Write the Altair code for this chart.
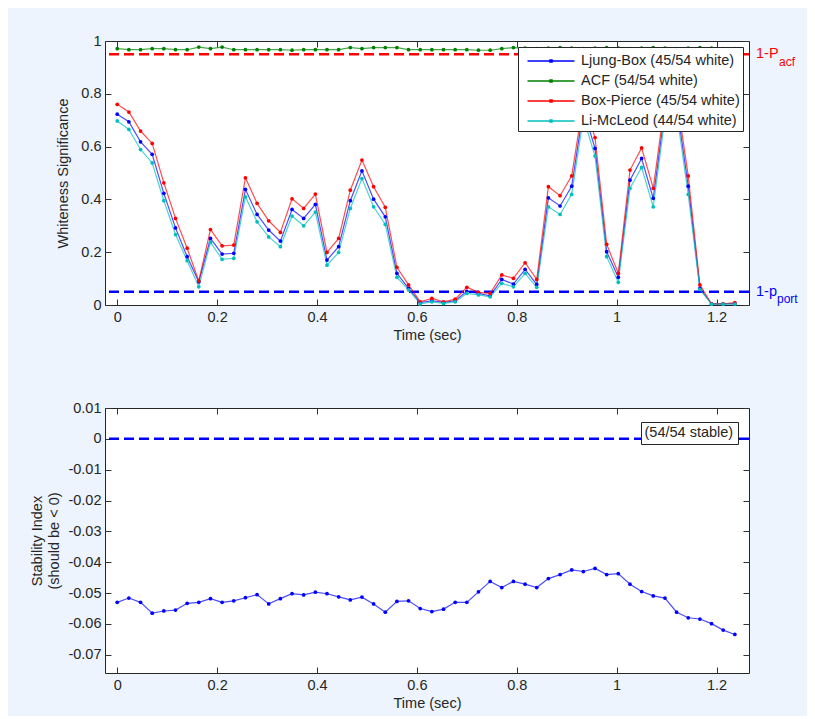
import altair as alt
import pandas as pd

# ---------------- data ----------------
t = [0.0, 0.0233, 0.0467, 0.07, 0.0933, 0.1167, 0.14, 0.1633, 0.1867, 0.21,
     0.2333, 0.2567, 0.28, 0.3033, 0.3267, 0.35, 0.3733, 0.3967, 0.42, 0.4433,
     0.4667, 0.49, 0.5133, 0.5367, 0.56, 0.5833, 0.6067, 0.63, 0.6533, 0.6767,
     0.70, 0.7233, 0.7467, 0.77, 0.7933, 0.8167, 0.84, 0.8633, 0.8867, 0.91,
     0.9333, 0.9567, 0.98, 1.0033, 1.0267, 1.05, 1.0733, 1.0967, 1.12, 1.1433,
     1.1667, 1.19, 1.2133, 1.2367]

ljung_box = [0.723, 0.694, 0.618, 0.571, 0.423, 0.292, 0.183, 0.088, 0.252, 0.193,
             0.196, 0.438, 0.343, 0.284, 0.242, 0.362, 0.328, 0.381, 0.170, 0.221,
             0.395, 0.508, 0.401, 0.334, 0.120, 0.063, 0.009, 0.016, 0.010, 0.016,
             0.052, 0.044, 0.035, 0.097, 0.079, 0.135, 0.078, 0.406, 0.375, 0.450,
             0.740, 0.593, 0.202, 0.105, 0.473, 0.555, 0.404, 0.740, 0.760, 0.450,
             0.063, 0.004, 0.004, 0.005]

acf = [0.971, 0.967, 0.967, 0.971, 0.971, 0.967, 0.967, 0.977, 0.971, 0.977,
       0.967, 0.967, 0.967, 0.967, 0.967, 0.965, 0.967, 0.967, 0.967, 0.967,
       0.975, 0.971, 0.975, 0.975, 0.975, 0.967, 0.967, 0.967, 0.967, 0.967,
       0.967, 0.965, 0.965, 0.971, 0.975, 0.973, 0.971, 0.973, 0.975, 0.973,
       0.971, 0.973, 0.975, 0.973, 0.971, 0.973, 0.975, 0.973, 0.971, 0.973,
       0.975, 0.973, 0.971, 0.971]

box_pierce = [0.760, 0.731, 0.659, 0.612, 0.463, 0.328, 0.215, 0.091, 0.286, 0.224,
              0.227, 0.482, 0.385, 0.319, 0.275, 0.402, 0.366, 0.420, 0.199, 0.252,
              0.435, 0.549, 0.448, 0.370, 0.143, 0.076, 0.012, 0.025, 0.012, 0.022,
              0.067, 0.048, 0.044, 0.114, 0.101, 0.160, 0.097, 0.448, 0.414, 0.489,
              0.770, 0.634, 0.230, 0.120, 0.511, 0.595, 0.442, 0.770, 0.790, 0.489,
              0.076, 0.004, 0.004, 0.009]

li_mcleod = [0.697, 0.665, 0.589, 0.538, 0.395, 0.267, 0.168, 0.069, 0.237, 0.173,
             0.177, 0.410, 0.315, 0.258, 0.221, 0.337, 0.300, 0.352, 0.151, 0.199,
             0.366, 0.479, 0.372, 0.305, 0.105, 0.057, 0.004, 0.012, 0.006, 0.012,
             0.044, 0.038, 0.031, 0.082, 0.069, 0.120, 0.067, 0.372, 0.343, 0.419,
             0.710, 0.564, 0.183, 0.086, 0.442, 0.521, 0.372, 0.710, 0.730, 0.419,
             0.059, 0.003, 0.003, 0.003]

stability = [-0.0530, -0.0516, -0.0530, -0.0565, -0.0558, -0.0555, -0.0533, -0.0530, -0.0518, -0.0530,
             -0.0525, -0.0515, -0.0505, -0.0535, -0.0518, -0.0502, -0.0506, -0.0497, -0.0502, -0.0512,
             -0.0522, -0.0513, -0.0535, -0.0562, -0.0527, -0.0525, -0.0550, -0.0560, -0.0552, -0.0530,
             -0.0530, -0.0496, -0.0462, -0.0482, -0.0462, -0.0471, -0.0482, -0.0453, -0.0440, -0.0425,
             -0.0430, -0.0420, -0.0440, -0.0437, -0.0471, -0.0495, -0.0509, -0.0516, -0.0562, -0.0580,
             -0.0584, -0.0599, -0.0620, -0.0634]

series_names = ["Ljung-Box (45/54 white)", "ACF (54/54 white)",
                "Box-Pierce (45/54 white)", "Li-McLeod (44/54 white)"]
series_colors = ["#0000ff", "#008000", "#ff0000", "#00bfbf"]

x_ticks = [0, 0.2, 0.4, 0.6, 0.8, 1.0, 1.2]
y1_ticks = [0, 0.2, 0.4, 0.6, 0.8, 1.0]
y2_ticks = [0.01, 0, -0.01, -0.02, -0.03, -0.04, -0.05, -0.06, -0.07]

p_acf = 0.95
p_port = 0.05
stable_level = 0.0
stable_label = "(54/54 stable)"

x_title = "Time (sec)"
y1_title = "Whiteness Significance"
y2_title = ["Stability Index", "(should be < 0)"]

# ---------------- tables ----------------
rows = []
for name, vals in zip(series_names, [ljung_box, acf, box_pierce, li_mcleod]):
    for ti, v in zip(t, vals):
        rows.append({"t": ti, "v": v, "series": name})
df1 = pd.DataFrame(rows)
df2 = pd.DataFrame({"t": t, "s": stability})
thr = pd.DataFrame({"y": [p_acf, p_port]})
stab_rule = pd.DataFrame({"y": [stable_level], "lab": [stable_label]})

# ---------------- style ----------------
FONT = "Liberation Sans"
FS = 14.5
TXT = "#262626"
W, H1, H2 = 644, 264, 265
TICK = 6

xscale = alt.Scale(domain=[-0.0245, 1.265], nice=False, zero=False)
y1scale = alt.Scale(domain=[0, 1], nice=False, zero=False)
y2scale = alt.Scale(domain=[-0.0759, 0.01], nice=False, zero=False)

minus_fix = "replace(format(datum.value, '~g'), '\u2212', '-')"


def x_bottom():
    return alt.Axis(values=x_ticks, labelExpr=minus_fix, offset=-TICK, tickSize=TICK,
                    domain=False, labelPadding=5, title=x_title, titlePadding=5)


def x_top():
    return alt.Axis(orient="top", values=x_ticks, labels=False, offset=-TICK,
                    tickSize=TICK, domain=False, title=None)


def y_left(vals, title, tpad):
    return alt.Axis(values=vals, labelExpr=minus_fix, offset=-TICK, tickSize=TICK,
                    domain=False, labelPadding=4, title=title, titlePadding=tpad)


def y_right(vals):
    return alt.Axis(orient="right", values=vals, labels=False, offset=-TICK,
                    tickSize=TICK, domain=False, title=None)


legend_path = "M-2.35,0H2.35M-0.1,-0.1H0.1V0.1H-0.1Z"

# ---------------- top panel ----------------
lines = alt.Chart(df1).mark_line(
    strokeWidth=1.2, strokeOpacity=0.7,
    point=alt.OverlayMarkDef(size=14, filled=True, opacity=1)
).encode(
    x=alt.X("t:Q", scale=xscale, axis=x_bottom()),
    y=alt.Y("v:Q", scale=y1scale, axis=y_left(y1_ticks, y1_title, 10)),
    color=alt.Color("series:N", sort=series_names,
                    scale=alt.Scale(domain=series_names, range=series_colors),
                    legend=alt.Legend(title=None, orient="top-right", offset=6,
                                      fillColor="white", strokeColor=TXT, padding=3,
                                      symbolType=legend_path, symbolSize=400,
                                      symbolStrokeWidth=1.5, symbolOffset=19,
                                      labelOffset=19, rowPadding=2,
                                      labelFont=FONT, labelFontSize=FS,
                                      labelColor=TXT, labelLimit=400)),
)

frame1 = alt.Chart(df1).mark_point(opacity=0).encode(
    x=alt.X("t:Q", scale=xscale, axis=x_top()),
    y=alt.Y("v:Q", scale=y1scale, axis=y_right(y1_ticks)),
)

rule_acf = alt.Chart(thr).transform_filter(alt.datum.y > 0.5).mark_rule(
    color="#ff0000", strokeWidth=2.5, strokeDash=[10, 5]
).encode(y=alt.Y("y:Q", scale=y1scale, axis=None))

rule_port = alt.Chart(thr).transform_filter(alt.datum.y < 0.5).mark_rule(
    color="#0000ff", strokeWidth=2.5, strokeDash=[10, 5]
).encode(y=alt.Y("y:Q", scale=y1scale, axis=None))


def side_label(level, text, color, dx, dy, size):
    return alt.Chart(pd.DataFrame({"y": [level], "txt": [text]})).mark_text(
        align="left", baseline="middle", font=FONT, fontSize=size, color=color,
        dx=dx, dy=dy
    ).encode(x=alt.value(W), y=alt.Y("y:Q", scale=y1scale, axis=None), text="txt:N")


lab1 = side_label(p_acf, "1-P", "#ff0000", 7, 0, FS)
lab1s = side_label(p_acf, "acf", "#ff0000", 30, 8, 12)
lab2 = side_label(p_port, "1-p", "#0000ff", 7, 0, FS)
lab2s = side_label(p_port, "port", "#0000ff", 28, 7, 12)

top = alt.layer(rule_acf, rule_port, lines, frame1, lab1, lab1s, lab2, lab2s).resolve_axis(
    x="independent", y="independent"
).properties(width=W, height=H1)

# ---------------- bottom panel ----------------
stab_line = alt.Chart(df2).mark_line(
    color="#0000ff", strokeWidth=1.2, strokeOpacity=0.7,
    point=alt.OverlayMarkDef(size=14, filled=True, opacity=1, color="#0000ff")
).encode(
    x=alt.X("t:Q", scale=xscale, axis=x_bottom()),
    y=alt.Y("s:Q", scale=y2scale, axis=y_left(y2_ticks, y2_title, 6)),
)

frame2 = alt.Chart(df2).mark_point(opacity=0).encode(
    x=alt.X("t:Q", scale=xscale, axis=x_top()),
    y=alt.Y("s:Q", scale=y2scale, axis=y_right(y2_ticks)),
)

rule_stable = alt.Chart(stab_rule).mark_rule(strokeWidth=2.5, strokeDash=[10, 5]).encode(
    y=alt.Y("y:Q", scale=y2scale, axis=None),
    color=alt.Color("lab:N", scale=alt.Scale(domain=[stable_label], range=["#0000ff"]),
                    legend=alt.Legend(title=None, orient="none", legendX=536, legendY=14,
                                      fillColor="white", strokeColor=TXT, padding=4,
                                      symbolSize=0, symbolOpacity=0, symbolStrokeWidth=0,
                                      labelOffset={"expr": "-15"}, labelFont=FONT,
                                      labelFontSize=FS, labelColor=TXT)),
)

bottom = alt.layer(rule_stable, stab_line, frame2).resolve_axis(
    x="independent", y="independent"
).properties(width=W, height=H2)

chart = alt.vconcat(top, bottom, spacing=56).resolve_scale(
    color="independent"
).resolve_legend(color="independent").properties(
    background="#edf4fe",
    padding={"left": 21, "top": 24, "right": 8, "bottom": 5},
).configure_view(
    stroke=TXT, strokeWidth=1, fill="white"
).configure_axis(
    labelFont=FONT, titleFont=FONT, labelFontSize=FS, titleFontSize=FS,
    labelColor=TXT, titleColor=TXT, tickColor="#333333", titleFontWeight="normal",
    grid=False, labelFlush=False, labelOverlap=False, titleLineHeight=17,
)

chart.save("out.html", embed_options={"renderer": "svg", "actions": False})
